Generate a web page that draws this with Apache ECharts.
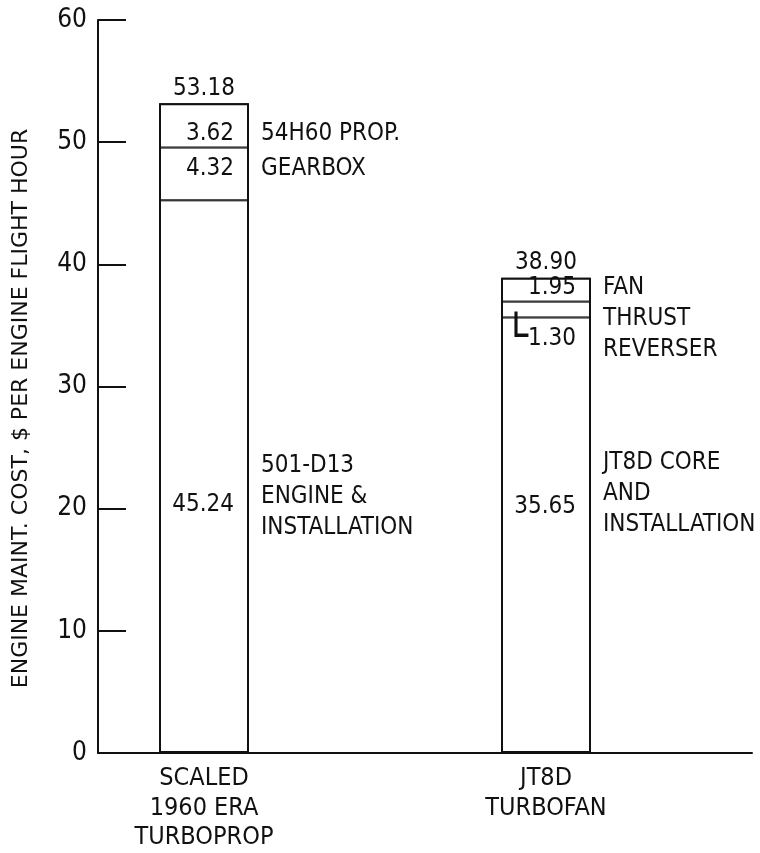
<!DOCTYPE html>
<html>
<head>
<meta charset="utf-8">
<script src="https://cdn.jsdelivr.net/npm/echarts@6/dist/echarts.min.js"></script>
<style>
  html, body { margin: 0; padding: 0; background: #fff; }
  #chart { width: 760px; height: 853px; }
</style>
</head>
<body>
<div id="chart"></div>
<script>
// engine maintenance cost breakdown, $ per engine flight hour
const categories = ['SCALED\n1960 ERA\nTURBOPROP', 'JT8D\nTURBOFAN']
const coreValues = [45.24, 35.65]
const middleValues = [4.32, 1.30]
const topValues = [3.62, 1.95]
const totals = [53.18, 38.90]
const coreNames = ['501-D13\nENGINE &\nINSTALLATION', 'JT8D CORE\nAND\nINSTALLATION']
const middleNames = ['GEARBOX', 'THRUST\nREVERSER']
const topNames = ['54H60 PROP.', 'FAN']
const yMin = 0
const yMax = 60
const yStep = 10

const FONT = "'Liberation Sans Narrow', 'DejaVu Sans Condensed', 'Roboto Condensed', sans-serif"
const BLACK = '#111'

const chart = echarts.init(document.getElementById('chart'), null, { renderer: 'canvas' })

const grid = { top: 20, bottom: 100, containLabel: false }

const textBase = {
  fontFamily: FONT,
  fontSize: 24,
  color: BLACK
}

const overlay = {
  type: 'bar',
  xAxisIndex: 1,
  yAxisIndex: 1,
  barWidth: 90,
  barGap: '-100%',
  silent: true
}

// visible bar segment, value printed inside on the right.
// 1px border per segment so two neighbours make one divider
const segment = (name, values, offsets, rich) => ({
  ...overlay,
  name,
  stack: 'cost',
  itemStyle: { color: 'rgba(0,0,0,0)', borderColor: '#000', borderWidth: 1 },
  data: values.map((v, i) => ({
    value: v,
    label: {
      show: true,
      position: 'insideRight',
      distance: 15,
      offset: [0, offsets[i]],
      formatter: rich && rich[i] ? rich[i](v) : v.toFixed(2),
      rich: {
        l: { fontFamily: 'DejaVu Sans', fontSize: 40, color: BLACK },
        v: { ...textBase }
      },
      ...textBase
    }
  }))
})

// invisible twin used only to place the description to the right of the bar
const caption = (name, values, texts, offsets) => ({
  ...overlay,
  name,
  stack: 'caption',
  itemStyle: { color: 'rgba(0,0,0,0)' },
  data: values.map((v, i) => ({
    value: v,
    label: {
      show: true,
      position: 'right',
      distance: 12,
      offset: [0, offsets[i]],
      formatter: texts[i],
      lineHeight: 31,
      ...textBase
    }
  }))
})

const option = {
  animation: false,
  backgroundColor: '#fff',
  grid: [
    { ...grid, left: 98, right: 8 },
    { ...grid, left: 33, right: 43 }
  ],
  xAxis: [
    {
      gridIndex: 0,
      type: 'value',
      min: 0,
      max: 1,
      axisLine: { show: true, lineStyle: { color: BLACK, width: 2 } },
      axisTick: { show: false },
      axisLabel: { show: false },
      splitLine: { show: false }
    },
    {
      gridIndex: 1,
      type: 'category',
      data: categories,
      axisLine: { show: false },
      axisTick: { show: false },
      axisLabel: {
        margin: 11,
        lineHeight: 29.5,
        ...textBase,
        fontSize: 25
      }
    }
  ],
  yAxis: [
    {
      gridIndex: 0,
      type: 'value',
      min: yMin,
      max: yMax,
      interval: yStep,
      name: 'ENGINE MAINT. COST, $ PER ENGINE FLIGHT HOUR',
      nameLocation: 'middle',
      nameGap: 66,
      nameTextStyle: {
        fontFamily: 'DejaVu Sans',
        fontSize: 22,
        color: BLACK,
        padding: [0, 44, 0, 0]
      },
      axisLine: { show: true, lineStyle: { color: BLACK, width: 2 } },
      axisTick: { show: true, inside: true, length: 28, lineStyle: { color: BLACK, width: 2 } },
      axisLabel: { margin: 11, ...textBase, fontSize: 26 },
      splitLine: { show: false }
    },
    {
      gridIndex: 1,
      type: 'value',
      min: yMin,
      max: yMax,
      interval: yStep,
      show: false
    }
  ],
  series: [
    segment('core', coreValues, [28, -28]),
    segment('middle', middleValues, [-5, 29], [null, v => '{l|\u2514}{v|' + v.toFixed(2) + '}']),
    segment('top', topValues, [8, -2]),
    caption('coreName', coreValues, coreNames, [20, -41]),
    caption('middleName', middleValues, middleNames, [-5, 25]),
    caption('topName', topValues, topNames, [8, -2]),
    {
      // whole-bar outline, 2px, carries the total on top
      ...overlay,
      name: 'total',
      stack: 'outline',
      itemStyle: { color: 'rgba(0,0,0,0)', borderColor: BLACK, borderWidth: 2 },
      data: totals,
      label: {
        show: true,
        position: 'top',
        distance: 3,
        formatter: p => p.value.toFixed(2),
        ...textBase
      }
    }
  ]
}

chart.setOption(option)
</script>
</body>
</html>
